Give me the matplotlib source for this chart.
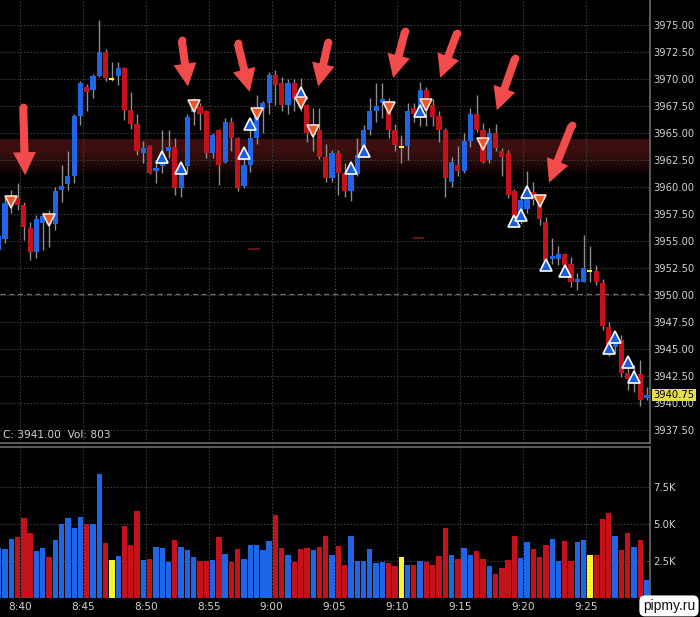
import numpy as np
import matplotlib
matplotlib.use("Agg")
import matplotlib.pyplot as plt

# 30-second bars, 8:38:30 .. 9:30
opens = [3954.2, 3955.2, 3958.8, 3959.0, 3958.3, 3956.2, 3954.0, 3956.7, 3957.1, 3956.6,
         3959.7, 3960.3, 3961.0, 3966.6, 3969.3, 3969.0, 3970.3, 3972.5, 3970.0, 3970.3,
         3971.0, 3967.1, 3965.8, 3963.1, 3963.8, 3961.5, 3961.9, 3963.3, 3963.7, 3959.9,
         3961.9, 3966.9, 3967.5, 3967.0, 3963.1, 3965.3, 3962.3, 3966.0, 3964.5, 3960.1,
         3962.0, 3964.5, 3967.2, 3967.75, 3970.4, 3969.6, 3967.6, 3969.6, 3968.3, 3967.6,
         3964.8, 3965.3, 3962.75, 3960.8, 3963.1, 3961.3, 3959.6, 3961.2, 3963.0, 3965.3,
         3967.0, 3967.75, 3967.75, 3965.3, 3963.7, 3963.8, 3967.3, 3966.8, 3969.0, 3967.6,
         3966.6, 3965.3, 3960.5, 3962.0, 3961.5, 3964.3, 3966.8, 3965.3, 3962.5, 3965.0,
         3963.3, 3963.1, 3959.6, 3957.4, 3958.0, 3959.5, 3958.5, 3956.8, 3953.3, 3953.3,
         3953.8, 3952.9, 3951.2, 3951.2, 3952.2, 3952.2, 3951.1, 3947.0, 3945.2, 3945.8,
         3942.8, 3942.1, 3942.7, 3940.5]
highs = [3956.0, 3959.1, 3959.7, 3960.4, 3958.6, 3956.8, 3957.4, 3957.7, 3957.9, 3960.0,
         3962.0, 3963.3, 3966.8, 3969.8, 3969.5, 3970.5, 3975.5, 3972.8, 3971.6, 3971.6,
         3971.1, 3968.8, 3966.8, 3964.3, 3963.9, 3962.5, 3965.3, 3965.3, 3964.5, 3961.8,
         3966.8, 3968.2, 3967.75, 3967.1, 3965.0, 3965.4, 3966.4, 3966.5, 3964.6, 3962.6,
         3965.5, 3968.5, 3968.0, 3970.6, 3970.8, 3970.2, 3970.0, 3970.0, 3970.1, 3967.7,
         3967.3, 3967.3, 3964.0, 3963.4, 3963.4, 3962.2, 3961.8, 3964.5, 3965.7, 3968.2,
         3969.6, 3969.6, 3968.2, 3965.8, 3964.8, 3967.75, 3967.75, 3969.75, 3969.3, 3968.1,
         3967.0, 3965.5, 3962.8, 3963.8, 3965.0, 3967.3, 3968.5, 3965.9, 3965.5, 3965.8,
         3963.6, 3963.4, 3959.8, 3959.0, 3961.5, 3960.5, 3959.0, 3957.25, 3955.25, 3954.5,
         3953.9, 3953.5, 3952.0, 3955.6, 3954.5, 3952.8, 3951.45, 3947.5, 3946.5, 3946.3,
         3943.5, 3943.5, 3944.0, 3941.45]
lows = [3953.8, 3954.8, 3957.6, 3957.9, 3955.1, 3953.2, 3953.4, 3954.2, 3954.4, 3956.0,
        3958.6, 3959.7, 3960.4, 3965.7, 3967.0, 3968.2, 3970.2, 3969.8, 3969.8, 3969.4,
        3966.2, 3965.4, 3963.0, 3962.2, 3961.2, 3960.4, 3961.3, 3962.7, 3959.3, 3959.1,
        3961.4, 3965.7, 3965.3, 3962.7, 3962.7, 3960.2, 3962.2, 3963.3, 3959.6, 3959.9,
        3961.4, 3964.0, 3965.0, 3966.8, 3967.6, 3967.0, 3966.8, 3967.0, 3967.0, 3964.2,
        3963.3, 3962.6, 3960.5, 3960.5, 3959.3, 3959.1, 3958.7, 3961.0, 3962.8, 3964.8,
        3966.0, 3966.4, 3964.5, 3963.3, 3962.2, 3962.5, 3966.0, 3965.6, 3965.6, 3965.6,
        3964.2, 3959.1, 3960.0, 3961.0, 3961.3, 3963.7, 3965.1, 3962.2, 3962.2, 3963.3,
        3961.0, 3959.0, 3956.3, 3956.6, 3957.6, 3958.3, 3956.5, 3952.9, 3952.9, 3952.8,
        3951.7, 3950.7, 3950.5, 3951.2, 3951.2, 3950.9, 3946.8, 3944.4, 3944.6, 3942.4,
        3941.2, 3941.0, 3939.7, 3940.3]
closes = [3955.5, 3958.5, 3959.2, 3958.3, 3956.3, 3954.0, 3957.0, 3957.3, 3956.6, 3959.6,
          3960.1, 3961.0, 3966.6, 3969.6, 3968.8, 3970.3, 3972.5, 3970.1, 3970.0, 3971.0,
          3967.1, 3965.8, 3963.3, 3963.6, 3961.3, 3961.8, 3962.8, 3963.7, 3959.9, 3961.4,
          3966.5, 3967.5, 3966.8, 3963.1, 3964.8, 3962.0, 3966.0, 3964.5, 3959.9, 3962.0,
          3964.5, 3967.3, 3967.8, 3970.4, 3969.4, 3967.6, 3969.6, 3968.1, 3967.6, 3965.0,
          3965.5, 3962.8, 3960.8, 3963.1, 3961.3, 3959.6, 3961.4, 3963.0, 3965.3, 3967.0,
          3967.5, 3968.1, 3965.3, 3963.9, 3963.7, 3967.0, 3966.8, 3969.0, 3968.2, 3966.5,
          3965.3, 3960.8, 3962.3, 3961.5, 3964.3, 3966.8, 3965.3, 3962.3, 3965.0, 3963.6,
          3962.8, 3959.3, 3957.25, 3958.8, 3959.1, 3958.8, 3957.0, 3953.1, 3953.6, 3953.8,
          3952.8, 3951.2, 3951.45, 3952.5, 3952.2, 3951.2, 3947.1, 3945.1, 3946.0, 3942.8,
          3942.2, 3942.6, 3940.3, 3940.75]
volumes_k = [3.38, 3.33, 4.0, 4.1, 5.4, 4.4, 3.2, 3.4, 2.77, 3.9,
             5.0, 5.4, 4.75, 5.45, 5.0, 5.0, 8.4, 3.73, 2.6, 2.84,
             4.87, 3.6, 5.85, 2.6, 2.66, 3.43, 3.36, 2.45, 3.9, 3.47,
             3.27, 2.75, 2.52, 2.48, 2.57, 4.14, 3.0, 2.41, 3.3, 2.63,
             3.6, 3.56, 3.24, 3.87, 5.6, 3.4, 2.88, 2.45, 3.3, 3.4,
             3.27, 3.47, 4.17, 2.93, 3.5, 2.2, 4.17, 2.52, 2.52, 3.3,
             2.39, 2.45, 2.36, 2.14, 2.79, 2.2, 2.25, 2.52, 2.45, 2.2,
             2.84, 4.75, 2.88, 2.66, 3.36, 2.88, 3.15, 2.66, 2.14, 1.64,
             2.0, 2.57, 4.17, 2.7, 3.75, 3.3, 2.79, 3.6, 4.0, 2.52,
             3.87, 2.52, 3.8, 3.9, 2.88, 2.93, 5.33, 5.77, 4.2, 3.27,
             4.37, 3.47, 3.93, 1.2]

time_labels = ["8:40", "8:45", "8:50", "8:55", "9:00", "9:05", "9:10", "9:15", "9:20", "9:25"]
time_tick_bars = [3.4, 13.4, 23.4, 33.4, 43.4, 53.4, 63.4, 73.4, 83.4, 93.4]
price_ticks = [3937.5, 3940.0, 3942.5, 3945.0, 3947.5, 3950.0, 3952.5, 3955.0,
               3957.5, 3960.0, 3962.5, 3965.0, 3967.5, 3970.0, 3972.5, 3975.0]
vol_ticks = [2.5, 5.0, 7.5]
vol_tick_labels = ["2.5K", "5.0K", "7.5K"]

# signal markers: (bar, price)
sell_signals = [(2, 3958.6), (8, 3956.9), (31, 3967.5), (41, 3966.8), (48, 3967.8),
                (50, 3965.2), (62, 3967.3), (68, 3967.6), (77, 3964.0), (86, 3958.7)]
buy_signals = [(26, 3962.8), (29, 3961.8), (39, 3963.1), (40, 3965.8), (48, 3968.7),
               (56, 3961.8), (58, 3963.3), (67, 3967.0), (82, 3956.85), (83, 3957.4),
               (84, 3959.5), (87, 3952.8), (90, 3952.2), (97, 3945.1), (98, 3946.1),
               (100, 3943.8), (101, 3942.4)]

# hand-drawn arrows: (tail bar, tail price, tip bar, tip price)
arrows = [(3.9, 3967.4, 4.2, 3961.1), (29.1, 3973.6, 30.1, 3969.3),
          (38.0, 3973.3, 39.9, 3968.8), (52.4, 3973.4, 50.8, 3969.3),
          (64.6, 3974.4, 62.7, 3970.1), (72.9, 3974.3, 70.2, 3970.1),
          (82.1, 3971.9, 79.2, 3967.1), (91.1, 3965.7, 87.5, 3960.4)]

band_top, band_bottom = 3964.4, 3960.8
ref_level = 3950.1
short_levels = [(39.6, 41.5, 3954.3), (65.9, 67.6, 3955.3)]
last_price = 3940.75
info_text = "C: 3941.00  Vol: 803"

BLUE = "#1e66e6"
RED = "#c4121a"
YELLOW = "#f5f52a"
WICK = "#8e8e8e"
GRID = "#3a3a3a"
TXT = "#d2d2d2"

W, H = 700, 617
fig = plt.figure(figsize=(W / 100, H / 100), dpi=100, facecolor="black")
ax = fig.add_axes([0, 1 - 443 / H, 650 / W, 443 / H], facecolor="black")
axv = fig.add_axes([0, 1 - 598 / H, 650 / W, 151 / H], facecolor="black")

x = np.arange(len(opens))
o = np.array(opens); c = np.array(closes)
h = np.array(highs); l = np.array(lows)
cols = np.where(c > o, BLUE, np.where(c < o, RED, YELLOW))
xlim = (0.207, 103.55)

# band
grad = np.zeros((100, 1, 4))
t = np.linspace(0, 1, 100)
grad[:, 0, 0] = 0.26
grad[:, 0, 1] = 0.07
grad[:, 0, 2] = 0.07
grad[:, 0, 3] = np.clip(1.15 - t ** 1.6 * 1.2, 0, 1) * 0.9
ax.imshow(grad, extent=[xlim[0], xlim[1], band_bottom, band_top], aspect="auto",
          origin="upper", zorder=0.5, interpolation="bilinear")

ax.axhline(ref_level, color="#707070", lw=0.9, ls=(0, (4, 3)), zorder=1)
for a, b, lev in short_levels:
    ax.hlines(lev, a, b, color="#6a1818", lw=1.3, zorder=1)

# candles
ax.vlines(x, l, h, color=WICK, lw=1.0, zorder=2)
body_lo = np.minimum(o, c)
body_h = np.abs(c - o)
mask = body_h > 0
ax.bar(x[mask], body_h[mask], bottom=body_lo[mask], width=0.82, color=cols[mask],
       edgecolor="none", zorder=3)
ax.hlines(c[~mask], x[~mask] - 0.4, x[~mask] + 0.4, color=YELLOW, lw=1.5, zorder=3)

# signals
bx, by = zip(*buy_signals)
sx, sy = zip(*sell_signals)
ax.plot(bx, by, ls="none", marker="^", ms=9, mfc="#1a5ee0", mec="white", mew=1.2, zorder=5)
ax.plot(sx, sy, ls="none", marker="v", ms=9, mfc="#ee5a26", mec="#f3e0d8", mew=1.2, zorder=5)

# arrows
for tx, ty, hx, hy in arrows:
    ax.annotate("", xy=(hx, hy), xytext=(tx, ty),
                arrowprops=dict(arrowstyle="simple,head_length=1.65,head_width=1.65,tail_width=0.58",
                                mutation_scale=10, fc="#f24b4b", ec="none",
                                shrinkA=0, shrinkB=0), zorder=6)
    ax.plot(tx, ty, "o", ms=5.6, color="#f24b4b", mec="none", zorder=6)

ax.set_xlim(*xlim)
ax.set_ylim(3936.3, 3977.31)
ax.set_yticks(price_ticks)
ax.set_yticklabels([f"{p:.2f}" for p in price_ticks])
ax.yaxis.tick_right()
ax.set_xticks(time_tick_bars)
ax.set_xticklabels([])
ax.tick_params(axis="both", length=0, colors=TXT, labelsize=7.2, pad=2.5)
ax.grid(True, color=GRID, ls=(0, (1.5, 1.5)), lw=0.8, zorder=0)
ax.set_axisbelow(True)
for s in ["left", "top"]:
    ax.spines[s].set_visible(False)
for s in ["right", "bottom"]:
    ax.spines[s].set_color("#6a6a6a")
    ax.spines[s].set_linewidth(1.2)

ax.text(0.004, 0.017, info_text, transform=ax.transAxes, color=TXT, fontsize=7.6,
        va="center", ha="left", zorder=7)
ax.annotate(f"{last_price:.2f}", xy=(1.0, last_price), xycoords=("axes fraction", "data"),
            xytext=(2.5, 0), textcoords="offset points", va="center", ha="left",
            fontsize=7.2, color="black", annotation_clip=False,
            bbox=dict(boxstyle="square,pad=0.1", fc="#e6df4c", ec="none"), zorder=8)

# volume
axv.bar(x, volumes_k, width=0.85, color=cols, edgecolor="none", zorder=2)
axv.set_xlim(*xlim)
axv.set_ylim(0, 10.2)
axv.set_yticks(vol_ticks)
axv.set_yticklabels(vol_tick_labels)
axv.yaxis.tick_right()
axv.set_xticks(time_tick_bars)
axv.set_xticklabels(time_labels)
axv.tick_params(axis="both", length=0, colors=TXT, labelsize=7.6)
axv.tick_params(axis="y", pad=2.5, labelsize=7.2)
axv.tick_params(axis="x", pad=3)
axv.grid(True, color=GRID, ls=(0, (1.5, 1.5)), lw=0.8, zorder=0)
axv.set_axisbelow(True)
for s in ["left", "bottom"]:
    axv.spines[s].set_visible(False)
for s in ["right", "top"]:
    axv.spines[s].set_color("#6a6a6a")
    axv.spines[s].set_linewidth(1.2)

fig.text(0.993, 0.018, "pipmy.ru", ha="right", va="center", fontsize=10,
         family="Liberation Sans", color="#101010",
         bbox=dict(boxstyle="round,pad=0.25,rounding_size=0.4", fc="white", ec="none"))

fig.savefig("out.png", dpi=100, facecolor="black")
